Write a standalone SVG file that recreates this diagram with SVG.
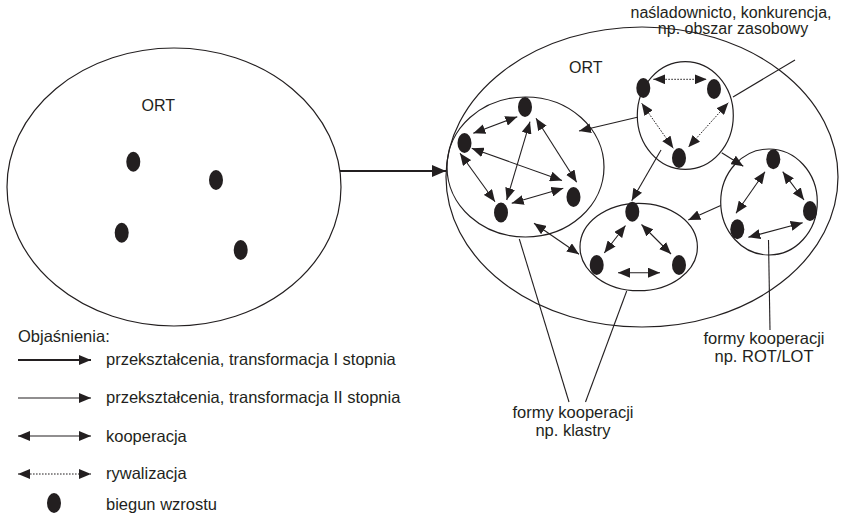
<svg xmlns="http://www.w3.org/2000/svg" width="842" height="513" viewBox="0 0 842 513">
  <style>
    text { font-family: "Liberation Sans", Arial, sans-serif; fill: #231f20; }
    .t16 { font-size: 16px; }
    .t165 { font-size: 16.5px; }
    .area { fill: none; stroke: #231f20; stroke-width: 1.2; }
    .pole { fill: #231f20; }
    .ln { fill: none; stroke: #231f20; stroke-width: 1.1; }
    .thick { fill: none; stroke: #231f20; stroke-width: 2.2; }
    .dot { fill: none; stroke: #231f20; stroke-width: 1; stroke-dasharray: 1.6 1.4; }
  </style>
  <defs>
    <marker id="ah" viewBox="0 0 12 10" refX="12" refY="5" markerWidth="12" markerHeight="10" markerUnits="userSpaceOnUse" orient="auto-start-reverse">
      <path d="M0,0 L12,5 L0,10 z" fill="#231f20"/>
    </marker>
    <marker id="ahBig" viewBox="0 0 14 12" refX="14" refY="6" markerWidth="14" markerHeight="12" markerUnits="userSpaceOnUse" orient="auto">
      <path d="M0,0 L14,6 L0,12 z" fill="#231f20"/>
    </marker>
  </defs>

  <!-- initial region with scattered growth poles -->
  <g id="ort-before">
    <ellipse class="area" cx="174" cy="187" rx="167" ry="139"/>
    <text class="t16" x="141.5" y="110.5">ORT</text>
    <ellipse class="pole" cx="133.3" cy="161.7" rx="7" ry="10"/>
    <ellipse class="pole" cx="216" cy="180" rx="7" ry="10"/>
    <ellipse class="pole" cx="121.7" cy="232.7" rx="7" ry="10"/>
    <ellipse class="pole" cx="240.7" cy="250" rx="7" ry="10"/>
  </g>

  <!-- transformed region -->
  <g id="ort-after">
    <ellipse class="area" cx="642" cy="177" rx="196" ry="150"/>
    <text class="t16" x="569" y="72.5">ORT</text>
  </g>

  <!-- cluster: left -->
  <g id="cluster-left">
    <ellipse class="area" cx="525.5" cy="167" rx="78.5" ry="70"/>
    <ellipse class="pole" cx="525" cy="107" rx="7" ry="10"/>
    <ellipse class="pole" cx="464.5" cy="143" rx="7" ry="10"/>
    <ellipse class="pole" cx="501" cy="212.5" rx="7" ry="10"/>
    <ellipse class="pole" cx="573.5" cy="197" rx="7" ry="10"/>
  </g>

  <!-- cluster: top (rivalry) -->
  <g id="cluster-top">
    <ellipse class="area" cx="685.3" cy="115.5" rx="48" ry="53.8"/>
    <ellipse class="pole" cx="643.3" cy="88" rx="7" ry="10"/>
    <ellipse class="pole" cx="714" cy="89" rx="7" ry="10"/>
    <ellipse class="pole" cx="679" cy="158" rx="7" ry="10"/>
  </g>

  <!-- cluster: bottom -->
  <g id="cluster-bottom">
    <ellipse class="area" cx="638.7" cy="247" rx="58.7" ry="43.7"/>
    <ellipse class="pole" cx="632.3" cy="211.7" rx="7" ry="10"/>
    <ellipse class="pole" cx="596.7" cy="265" rx="7" ry="10"/>
    <ellipse class="pole" cx="679" cy="265" rx="7" ry="10"/>
  </g>

  <!-- cluster: right -->
  <g id="cluster-right">
    <ellipse class="area" cx="769" cy="202" rx="48.3" ry="53"/>
    <ellipse class="pole" cx="773.3" cy="159.3" rx="7" ry="10"/>
    <ellipse class="pole" cx="810" cy="211" rx="7" ry="10"/>
    <ellipse class="pole" cx="737.3" cy="229.3" rx="7" ry="10"/>
  </g>

  <!-- callout labels -->
  <g id="label-rivalry">
    <text class="t16" x="731" y="17.5" text-anchor="middle">naśladownicto, konkurencja,</text>
    <text class="t16" x="733" y="33.5" text-anchor="middle">np. obszar zasobowy</text>
  </g>
  <g id="label-rot-lot">
    <text class="t165" x="764" y="344" text-anchor="middle">formy kooperacji</text>
    <text class="t165" x="764" y="362" text-anchor="middle">np. ROT/LOT</text>
  </g>
  <g id="label-clusters">
    <text class="t165" x="573" y="418" text-anchor="middle">formy kooperacji</text>
    <text class="t165" x="573" y="436" text-anchor="middle">np. klastry</text>
  </g>

  <!-- connectors -->
  <g id="connectors">
    <!-- first-degree transformation -->
    <line class="thick" x1="340" y1="171" x2="446" y2="171" marker-end="url(#ahBig)"/>

    <!-- second-degree transformations between clusters -->
    <line class="ln" x1="637.3" y1="117.3" x2="579" y2="131" marker-end="url(#ah)"/>
    <line class="ln" x1="661" y1="150" x2="631.7" y2="200.7" marker-end="url(#ah)"/>
    <line class="ln" x1="721.7" y1="152.7" x2="743.3" y2="166.3" marker-end="url(#ah)"/>
    <line class="ln" x1="720.7" y1="205.5" x2="688.3" y2="220" marker-end="url(#ah)"/>

    <!-- cooperation between clusters -->
    <line class="ln" x1="534" y1="223.3" x2="579" y2="254.3" marker-start="url(#ah)" marker-end="url(#ah)"/>

    <!-- cooperation inside left cluster -->
    <line class="ln" x1="473.3" y1="133.3" x2="517.3" y2="116.7" marker-start="url(#ah)" marker-end="url(#ah)"/>
    <line class="ln" x1="530" y1="121.7" x2="506.7" y2="200" marker-start="url(#ah)" marker-end="url(#ah)"/>
    <line class="ln" x1="536" y1="118.3" x2="576.7" y2="182.3" marker-start="url(#ah)" marker-end="url(#ah)"/>
    <line class="ln" x1="471.7" y1="148.3" x2="562" y2="180.5" marker-start="url(#ah)" marker-end="url(#ah)"/>
    <line class="ln" x1="460" y1="153.3" x2="495" y2="201.7" marker-start="url(#ah)" marker-end="url(#ah)"/>
    <line class="ln" x1="511.7" y1="203.3" x2="563.3" y2="188.3" marker-start="url(#ah)" marker-end="url(#ah)"/>

    <!-- rivalry inside top cluster -->
    <line class="dot" x1="653.3" y1="79.3" x2="706.7" y2="79.3" marker-start="url(#ah)" marker-end="url(#ah)"/>
    <line class="dot" x1="641.7" y1="103.3" x2="673.3" y2="148.3" marker-start="url(#ah)" marker-end="url(#ah)"/>
    <line class="dot" x1="728.3" y1="102.7" x2="688.3" y2="147.3" marker-start="url(#ah)" marker-end="url(#ah)"/>

    <!-- cooperation inside bottom cluster -->
    <line class="ln" x1="625.5" y1="225.5" x2="604.3" y2="253" marker-start="url(#ah)" marker-end="url(#ah)"/>
    <line class="ln" x1="641.5" y1="224.5" x2="671" y2="254" marker-start="url(#ah)" marker-end="url(#ah)"/>
    <line class="ln" x1="618" y1="272.7" x2="660" y2="272.7" marker-start="url(#ah)" marker-end="url(#ah)"/>

    <!-- cooperation inside right cluster -->
    <line class="ln" x1="765" y1="171.7" x2="736" y2="213.3" marker-start="url(#ah)" marker-end="url(#ah)"/>
    <line class="ln" x1="782.7" y1="171.7" x2="804" y2="200" marker-start="url(#ah)" marker-end="url(#ah)"/>
    <line class="ln" x1="748.3" y1="237.3" x2="802.7" y2="222.7" marker-start="url(#ah)" marker-end="url(#ah)"/>

    <!-- callout leaders -->
    <line class="ln" x1="795" y1="60" x2="733" y2="97"/>
    <line class="ln" x1="768.5" y1="240" x2="770" y2="330"/>
    <line class="ln" x1="519.3" y1="239" x2="569" y2="402"/>
    <line class="ln" x1="626.7" y1="291" x2="585.5" y2="402"/>
  </g>

  <!-- legend -->
  <g id="legend">
    <text class="t165" x="18" y="342">Objaśnienia:</text>
    <line class="thick" x1="18" y1="360" x2="91" y2="360" marker-end="url(#ah)"/>
    <text class="t165" x="106" y="365">przekształcenia, transformacja I stopnia</text>
    <line class="ln" x1="18" y1="398" x2="91" y2="398" marker-end="url(#ah)"/>
    <text class="t165" x="106" y="403">przekształcenia, transformacja II stopnia</text>
    <line class="ln" x1="18" y1="436" x2="91" y2="436" marker-start="url(#ah)" marker-end="url(#ah)"/>
    <text class="t165" x="106" y="441.5">kooperacja</text>
    <line class="dot" x1="18" y1="474" x2="91" y2="474" marker-start="url(#ah)" marker-end="url(#ah)"/>
    <text class="t165" x="106" y="479">rywalizacja</text>
    <ellipse class="pole" cx="54" cy="503" rx="7" ry="10"/>
    <text class="t165" x="106" y="509.5">biegun wzrostu</text>
  </g>
</svg>
